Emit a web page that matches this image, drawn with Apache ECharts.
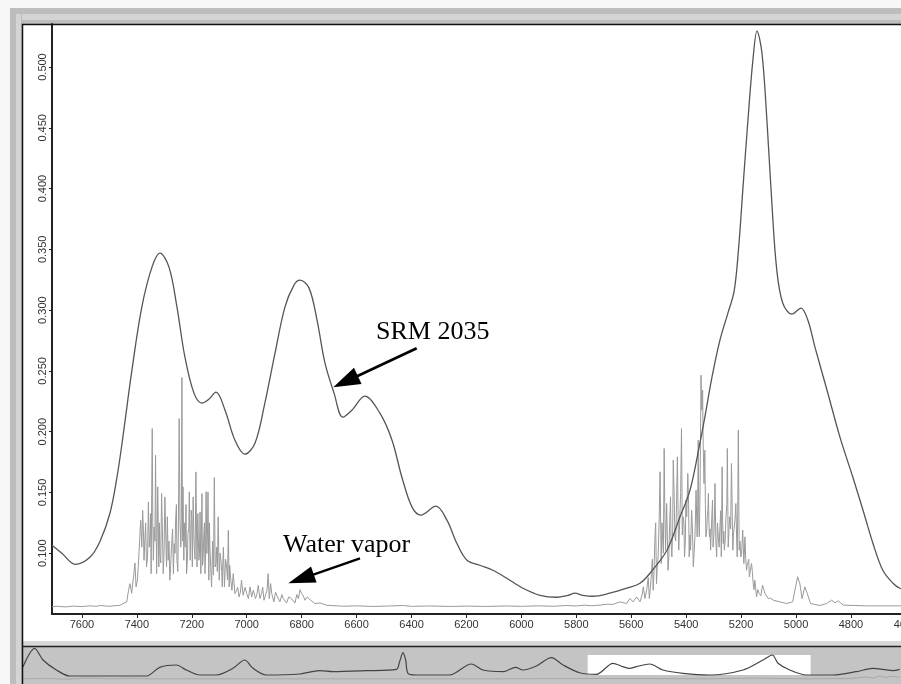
<!DOCTYPE html>
<html>

<head>
    <meta charset="utf-8" />
    <title>SRM 2035 spectrum</title>
    <script src="https://cdn.jsdelivr.net/npm/echarts@6.0.0/dist/echarts.min.js"></script>
    <style>
        html, body {
            margin: 0;
            padding: 0;
            overflow: hidden;
            background: #f7f7f7;
        }
        #chart {
            width: 1000px;
            height: 684px;
        }
    </style>
</head>

<body>
    <div id="chart"></div>

    <script type="text/javascript">
        // wavenumber (cm-1), absorbance
        const srm2035 = [
            [7709, 0.1066], [7673, 0.100], [7625, 0.0909], [7571, 0.0967], [7534, 0.1099], [7498, 0.1329],
            [7473, 0.1617], [7454, 0.1905], [7418, 0.2506], [7382, 0.3025], [7345, 0.3354], [7316, 0.3469],
            [7283, 0.3354], [7254, 0.3025], [7225, 0.2613], [7192, 0.2317], [7163, 0.2235], [7138, 0.2267],
            [7112, 0.2325], [7079, 0.2177], [7043, 0.1930], [7007, 0.1815], [6970, 0.1905], [6934, 0.2235],
            [6897, 0.2646], [6861, 0.3025], [6828, 0.3206], [6806, 0.3247], [6773, 0.3181], [6744, 0.2918],
            [6715, 0.2564], [6682, 0.2317], [6650, 0.2119], [6617, 0.2177], [6570, 0.2292], [6515, 0.2152],
            [6471, 0.1930], [6435, 0.1625], [6398, 0.1379], [6366, 0.1313], [6311, 0.1387], [6271, 0.1272],
            [6235, 0.1082], [6198, 0.0942], [6151, 0.0901], [6104, 0.0860], [6053, 0.0794], [5994, 0.0712],
            [5932, 0.0654], [5871, 0.0638], [5830, 0.0654], [5805, 0.0671], [5776, 0.0654], [5740, 0.0646],
            [5678, 0.0671], [5616, 0.0712], [5568, 0.0753], [5532, 0.0835], [5470, 0.1025], [5423, 0.1296],
            [5386, 0.1519], [5350, 0.1905], [5332, 0.2119], [5306, 0.2448], [5277, 0.2753], [5248, 0.2975],
            [5225, 0.3160], [5208, 0.3540], [5193, 0.4012], [5175, 0.4564], [5157, 0.5057], [5142, 0.5296],
            [5124, 0.5115], [5106, 0.4564], [5088, 0.3881], [5070, 0.3329], [5048, 0.3057], [5015, 0.2967],
            [4982, 0.3016], [4957, 0.2918], [4931, 0.2695], [4887, 0.2341], [4840, 0.1955], [4793, 0.1625],
            [4756, 0.1354], [4720, 0.1082], [4684, 0.0860], [4647, 0.0753], [4622, 0.0712], [4580, 0.0680],
            [4520, 0.0660]
        ];

        const waterVapor = [
            [7709, 0.0560], [7690, 0.0564], [7660, 0.0558], [7630, 0.0565], [7600, 0.0561], [7570, 0.0567],
            [7550, 0.0563], [7530, 0.0570], [7515, 0.0566],
            [7498, 0.0564], [7462, 0.0572], [7437, 0.060], [7425, 0.075], [7419, 0.067], [7411, 0.0832],
            [7403, 0.0723], [7395, 0.0887], [7386, 0.127], [7382, 0.105], [7379, 0.1354], [7374, 0.0942],
            [7371, 0.1107], [7365, 0.0887], [7358, 0.1422], [7355, 0.105], [7350, 0.1326], [7348, 0.0832],
            [7344, 0.2026], [7340, 0.0942], [7337, 0.1216], [7332, 0.1806], [7328, 0.0832], [7324, 0.1546],
            [7320, 0.0887], [7316, 0.0997], [7310, 0.1491], [7304, 0.0832], [7298, 0.1463], [7292, 0.0887],
            [7286, 0.0942], [7280, 0.0778], [7274, 0.105], [7267, 0.0832], [7264, 0.1079], [7259, 0.127],
            [7254, 0.0942], [7249, 0.1161], [7246, 0.2108], [7243, 0.127], [7240, 0.105], [7236, 0.2445],
            [7232, 0.1546], [7229, 0.0942], [7224, 0.105], [7219, 0.0832], [7214, 0.1161], [7209, 0.1505],
            [7206, 0.0942], [7202, 0.1354], [7198, 0.0887], [7195, 0.1463], [7191, 0.105], [7185, 0.1669],
            [7181, 0.0887], [7178, 0.1326], [7174, 0.0942], [7170, 0.134], [7167, 0.0832], [7163, 0.1491],
            [7159, 0.0942], [7156, 0.1161], [7152, 0.0832], [7148, 0.1505], [7145, 0.0997], [7141, 0.1505],
            [7138, 0.0778], [7134, 0.105], [7128, 0.0723], [7118, 0.1622], [7115, 0.0887], [7110, 0.105],
            [7104, 0.1299], [7100, 0.0778], [7094, 0.0942], [7089, 0.0723], [7085, 0.105], [7081, 0.0723],
            [7073, 0.0887], [7067, 0.1189], [7064, 0.0723], [7059, 0.0805], [7054, 0.0695], [7049, 0.0832],
            [7043, 0.0668], [7037, 0.0695], [7028, 0.064], [7019, 0.0778], [7013, 0.0654], [7000, 0.0668],
            [6994, 0.0627], [6988, 0.0723], [6982, 0.064], [6976, 0.0695], [6968, 0.0627], [6958, 0.0736],
            [6952, 0.0627], [6946, 0.0668], [6937, 0.0613], [6930, 0.0668], [6922, 0.0832], [6918, 0.0627],
            [6909, 0.0668], [6901, 0.060], [6891, 0.0654], [6879, 0.060], [6867, 0.0627], [6855, 0.0591],
            [6837, 0.0627], [6824, 0.0591], [6812, 0.0627], [6800, 0.0668], [6788, 0.0613], [6770, 0.0619],
            [6752, 0.0586], [6733, 0.0591], [6709, 0.0572], [6648, 0.0564],
            [6600, 0.0567], [6540, 0.0562], [6480, 0.0566], [6430, 0.0570], [6400, 0.0563], [6330, 0.0566],
            [6260, 0.0562], [6200, 0.0565], [6130, 0.0562], [6060, 0.0566], [6000, 0.0563], [5940, 0.0567],
            [5880, 0.0564], [5840, 0.0570], [5800, 0.0566], [5770, 0.0573], [5745, 0.0568], [5714, 0.0573],
            [5690, 0.0580], [5665, 0.058], [5641, 0.060], [5617, 0.0586], [5605, 0.0627], [5593, 0.060],
            [5580, 0.064], [5568, 0.060], [5556, 0.0723], [5550, 0.0627], [5544, 0.0696], [5534, 0.0627],
            [5526, 0.086], [5520, 0.0696], [5514, 0.1107], [5508, 0.075], [5502, 0.097], [5495, 0.167],
            [5491, 0.0915], [5486, 0.1135], [5480, 0.1862], [5475, 0.1025], [5471, 0.1409], [5466, 0.086],
            [5463, 0.097], [5457, 0.1464], [5452, 0.097], [5447, 0.1766], [5441, 0.1135], [5432, 0.1793],
            [5427, 0.1025], [5423, 0.13], [5417, 0.2026], [5411, 0.13], [5406, 0.097], [5401, 0.1437],
            [5394, 0.1656], [5389, 0.097], [5384, 0.1025], [5380, 0.1354], [5374, 0.0888], [5368, 0.1135],
            [5364, 0.1519], [5360, 0.1135], [5356, 0.193], [5352, 0.1135], [5346, 0.2465], [5343, 0.2177],
            [5340, 0.2342], [5335, 0.1574], [5332, 0.1848], [5328, 0.1135], [5323, 0.13], [5319, 0.1492],
            [5315, 0.1135], [5311, 0.1025], [5304, 0.1437], [5299, 0.1162], [5295, 0.1574], [5289, 0.097],
            [5283, 0.1135], [5277, 0.1217], [5272, 0.097], [5269, 0.1711], [5265, 0.108], [5261, 0.1025],
            [5255, 0.13], [5250, 0.1862], [5245, 0.1135], [5242, 0.13], [5235, 0.1738], [5230, 0.1025],
            [5225, 0.1135], [5219, 0.1409], [5214, 0.097], [5210, 0.2013], [5207, 0.1025], [5201, 0.097],
            [5194, 0.119], [5190, 0.0915], [5186, 0.1135], [5180, 0.086], [5175, 0.0915], [5170, 0.0806],
            [5162, 0.0915], [5156, 0.075], [5150, 0.0778], [5144, 0.064], [5134, 0.0668], [5122, 0.0737],
            [5113, 0.0668], [5101, 0.0627], [5083, 0.0614], [5059, 0.060], [5034, 0.0586], [5012, 0.060],
            [5004, 0.0696], [4994, 0.0806], [4986, 0.075], [4978, 0.0627], [4968, 0.0723], [4959, 0.0668],
            [4947, 0.0586], [4913, 0.057], [4889, 0.0586], [4870, 0.0614], [4858, 0.0592], [4846, 0.0608],
            [4828, 0.0573], [4743, 0.0567], [4622, 0.0567], [4500, 0.0567]
        ];
        // weaker lines between the main ones, merged into the vapor trace below
        const waterVaporFill = [
            [7430, 0.070], [7407, 0.092], [7398, 0.078], [7390, 0.110], [7376, 0.118], [7368, 0.125],
            [7361, 0.097], [7352, 0.115], [7346, 0.150], [7342, 0.125], [7334, 0.110], [7330, 0.130],
            [7326, 0.118], [7318, 0.125], [7313, 0.092], [7307, 0.120], [7301, 0.100], [7295, 0.118],
            [7289, 0.130], [7283, 0.110], [7277, 0.090], [7270, 0.120], [7261, 0.100], [7256, 0.140],
            [7251, 0.085], [7238, 0.130], [7234, 0.110], [7227, 0.125], [7221, 0.140], [7216, 0.095],
            [7211, 0.120], [7204, 0.110], [7200, 0.128], [7193, 0.120], [7188, 0.095], [7183, 0.125],
            [7176, 0.110], [7172, 0.100], [7165, 0.118], [7161, 0.090], [7154, 0.125], [7150, 0.100],
            [7143, 0.115], [7136, 0.125], [7131, 0.088], [7124, 0.110], [7121, 0.082], [7112, 0.092],
            [7107, 0.085], [7097, 0.100], [7091, 0.085], [7087, 0.092], [7077, 0.095], [7070, 0.078],
            [7062, 0.090], [7046, 0.075], [7033, 0.072], [7023, 0.068], [7006, 0.072], [6985, 0.068],
            [6963, 0.066], [6942, 0.072], [6926, 0.070], [6913, 0.075], [6895, 0.068], [6872, 0.066],
            [6847, 0.064], [6818, 0.066], [6806, 0.070], [6794, 0.065], [6780, 0.064],
            [5560, 0.066], [5538, 0.080], [5530, 0.072], [5523, 0.095], [5517, 0.085], [5511, 0.125],
            [5505, 0.090], [5498, 0.130], [5488, 0.125], [5483, 0.100], [5478, 0.140], [5473, 0.120],
            [5468, 0.110], [5460, 0.125], [5455, 0.110], [5449, 0.120], [5444, 0.150], [5438, 0.110],
            [5435, 0.140], [5429, 0.125], [5420, 0.150], [5414, 0.115], [5408, 0.125], [5403, 0.110],
            [5398, 0.130], [5391, 0.140], [5386, 0.115], [5377, 0.120], [5371, 0.100], [5366, 0.130],
            [5358, 0.140], [5354, 0.125], [5349, 0.160], [5338, 0.190], [5330, 0.140], [5325, 0.120],
            [5321, 0.135], [5317, 0.125], [5313, 0.120], [5307, 0.128], [5302, 0.105], [5297, 0.130],
            [5292, 0.110], [5286, 0.125], [5280, 0.105], [5274, 0.135], [5267, 0.125], [5263, 0.118],
            [5258, 0.110], [5252, 0.140], [5247, 0.105], [5238, 0.120], [5232, 0.130], [5228, 0.115],
            [5222, 0.128], [5216, 0.110], [5212, 0.140], [5204, 0.110], [5198, 0.100], [5192, 0.105],
            [5188, 0.100], [5183, 0.095], [5178, 0.090], [5172, 0.095], [5166, 0.080], [5159, 0.085],
            [5153, 0.070], [5147, 0.072], [5139, 0.070], [5128, 0.065], [5117, 0.070], [5107, 0.066],
            [5092, 0.063]
        ];

        // overview strip under the chart (whole scan, relative height)
        const overviewScan = [
            [15835, 0.468], [15667, 0.965], [15547, 0.649], [15354, 0.378], [15163, 0.216], [14059, 0.216],
            [13867, 0.451], [13628, 0.514], [13484, 0.378], [13293, 0.243], [13052, 0.243], [12813, 0.424],
            [12645, 0.649], [12525, 0.424], [12333, 0.243], [11853, 0.27], [11566, 0.359], [11374, 0.332],
            [10893, 0.359], [10462, 0.397], [10415, 0.603], [10367, 0.846], [10328, 0.649], [10295, 0.289],
            [10174, 0.243], [9695, 0.243], [9383, 0.541], [9216, 0.378], [8928, 0.332], [8745, 0.451],
            [8640, 0.378], [8447, 0.486], [8231, 0.711], [8064, 0.514], [7824, 0.305], [7584, 0.262],
            [7345, 0.559], [7201, 0.468], [7105, 0.424], [7008, 0.468], [6817, 0.541], [6625, 0.378],
            [6338, 0.289], [5953, 0.243], [5474, 0.378], [5186, 0.649], [5051, 0.784], [4970, 0.559],
            [4802, 0.378], [4562, 0.243], [4179, 0.243], [3842, 0.332], [3603, 0.424], [3459, 0.397],
            [3316, 0.359], [3219, 0.397]
        ];
        const overviewVapor = [
            [15835, 0.14], [15500, 0.15], [15200, 0.13], [14900, 0.16], [14600, 0.14], [14300, 0.15],
            [14000, 0.14], [12000, 0.14], [9000, 0.14], [7300, 0.15], [6000, 0.14], [5300, 0.16],
            [4600, 0.14], [3900, 0.15], [3700, 0.19], [3600, 0.16], [3500, 0.22], [3420, 0.17],
            [3350, 0.21], [3219, 0.18]
        ];
        const visibleWindow = [7709, 4500];

        const yTicks = { min: 0.05, max: 0.5354, step: 0.05 };
        const xTicks = { min: 4400, max: 7709, step: 200 };

        const labels = [
            { text: 'SRM 2035', x: 376, y: 332 },
            { text: 'Water vapor', x: 283, y: 545 }
        ];
        const arrows = [
            { from: [416.7, 348.3], to: [333.3, 387.3], len: 27, half: 9, width: 2.6 },
            { from: [360, 558.3], to: [288.3, 583.3], len: 27, half: 8.5, width: 2.4 }
        ];

        const chart = echarts.init(document.getElementById('chart'));

        const vaporTrace = waterVapor.concat(waterVaporFill).sort((a, b) => b[0] - a[0]);

        function arrowGraphics(a) {
            const dx = a.to[0] - a.from[0], dy = a.to[1] - a.from[1];
            const d = Math.sqrt(dx * dx + dy * dy);
            const ux = dx / d, uy = dy / d;
            const bx = a.to[0] - ux * a.len, by = a.to[1] - uy * a.len;
            return [
                {
                    type: 'line', z: 100,
                    shape: { x1: a.from[0], y1: a.from[1], x2: bx + ux * 2, y2: by + uy * 2 },
                    style: { stroke: '#000', lineWidth: a.width }
                },
                {
                    type: 'polygon', z: 100,
                    shape: { points: [a.to, [bx - uy * a.half, by + ux * a.half], [bx + uy * a.half, by - ux * a.half]] },
                    style: { fill: '#000' }
                }
            ];
        }

        // window frame around the plot
        const frame = [
            { type: 'rect', z: -10, shape: { x: 10, y: 8, width: 1000, height: 16 }, style: { fill: '#bdbdbd' } },
            { type: 'rect', z: -10, shape: { x: 16, y: 14, width: 1000, height: 6 }, style: { fill: '#d4d4d4' } },
            { type: 'rect', z: -10, shape: { x: 10, y: 8, width: 12, height: 676 }, style: { fill: '#bdbdbd' } },
            { type: 'rect', z: -10, shape: { x: 16, y: 14, width: 5, height: 670 }, style: { fill: '#d4d4d4' } },
            { type: 'rect', z: -10, shape: { x: 23, y: 25, width: 1000, height: 616 }, style: { fill: '#ffffff' } },
            { type: 'rect', z: -10, shape: { x: 23, y: 641, width: 1000, height: 5 }, style: { fill: '#d8d8d8' } },
            {
                type: 'polyline', z: 50,
                shape: { points: [[22.5, 684], [22.5, 24.5], [1000, 24.5]] },
                style: { stroke: '#111', lineWidth: 1.5, fill: null }
            },
            {
                type: 'line', z: 50,
                shape: { x1: 22, y1: 646.5, x2: 1000, y2: 646.5 },
                style: { stroke: '#222', lineWidth: 1.5 }
            }
        ];

        const texts = labels.map(l => ({
            type: 'text', z: 100, x: l.x, y: l.y,
            style: {
                text: l.text, fill: '#000', font: '26px "Liberation Serif", "Times New Roman", serif',
                align: 'left', verticalAlign: 'middle'
            }
        }));

        const axisFont = { color: '#333', fontFamily: 'Liberation Sans, Arial, sans-serif', fontSize: 11 };

        let option = {
            animation: false,
            backgroundColor: 'transparent',
            graphic: frame.concat(texts, arrowGraphics(arrows[0]), arrowGraphics(arrows[1])),
            grid: [
                { left: 52, top: 24, width: 908.8, height: 590 },
                { left: 23, top: 647, width: 878, height: 37, show: true, backgroundColor: '#c4c4c4', borderWidth: 0 }
            ],
            xAxis: [
                {
                    gridIndex: 0,
                    type: 'value',
                    inverse: true,
                    min: xTicks.min,
                    max: xTicks.max,
                    interval: xTicks.step,
                    axisLine: { onZero: false, lineStyle: { color: '#222', width: 2 } },
                    axisTick: { length: 4, lineStyle: { color: '#222' } },
                    axisLabel: Object.assign({ margin: 5, showMaxLabel: false, formatter: v => String(v) }, axisFont),
                    splitLine: { show: false }
                },
                { gridIndex: 1, type: 'value', inverse: true, min: 3200, max: 15835, show: false }
            ],
            yAxis: [
                {
                    gridIndex: 0,
                    type: 'value',
                    min: yTicks.min,
                    max: yTicks.max,
                    interval: yTicks.step,
                    axisLine: { show: true, onZero: false, lineStyle: { color: '#222', width: 2 } },
                    axisTick: { show: true, length: 3, lineStyle: { color: '#222' } },
                    axisLabel: Object.assign({
                        rotate: 90, margin: 4, showMinLabel: false, showMaxLabel: false,
                        formatter: v => v.toFixed(3)
                    }, axisFont),
                    splitLine: { show: false }
                },
                { gridIndex: 1, type: 'value', min: 0, max: 1, show: false }
            ],
            series: [
                {
                    name: 'Water vapor',
                    type: 'line',
                    data: vaporTrace,
                    showSymbol: false,
                    lineStyle: { color: '#9a9a9a', width: 1 },
                    z: 2
                },
                {
                    name: 'SRM 2035',
                    type: 'line',
                    data: srm2035,
                    showSymbol: false,
                    smooth: 0.35,
                    lineStyle: { color: '#555', width: 1.3 },
                    z: 3
                },
                {
                    name: 'scan',
                    type: 'line',
                    xAxisIndex: 1,
                    yAxisIndex: 1,
                    data: overviewScan,
                    showSymbol: false,
                    smooth: 0.3,
                    lineStyle: { color: '#444', width: 1.2 },
                    markArea: {
                        silent: true,
                        itemStyle: { color: '#ffffff' },
                        data: [[{ xAxis: visibleWindow[0], yAxis: 0.243 }, { xAxis: visibleWindow[1], yAxis: 0.784 }]]
                    },
                    z: 3
                },
                {
                    name: 'vapor scan',
                    type: 'line',
                    xAxisIndex: 1,
                    yAxisIndex: 1,
                    data: overviewVapor,
                    showSymbol: false,
                    lineStyle: { color: '#a8a8a8', width: 1 },
                    z: 2
                }
            ]
        };

        chart.setOption(option);
    </script>
</body>

</html>
